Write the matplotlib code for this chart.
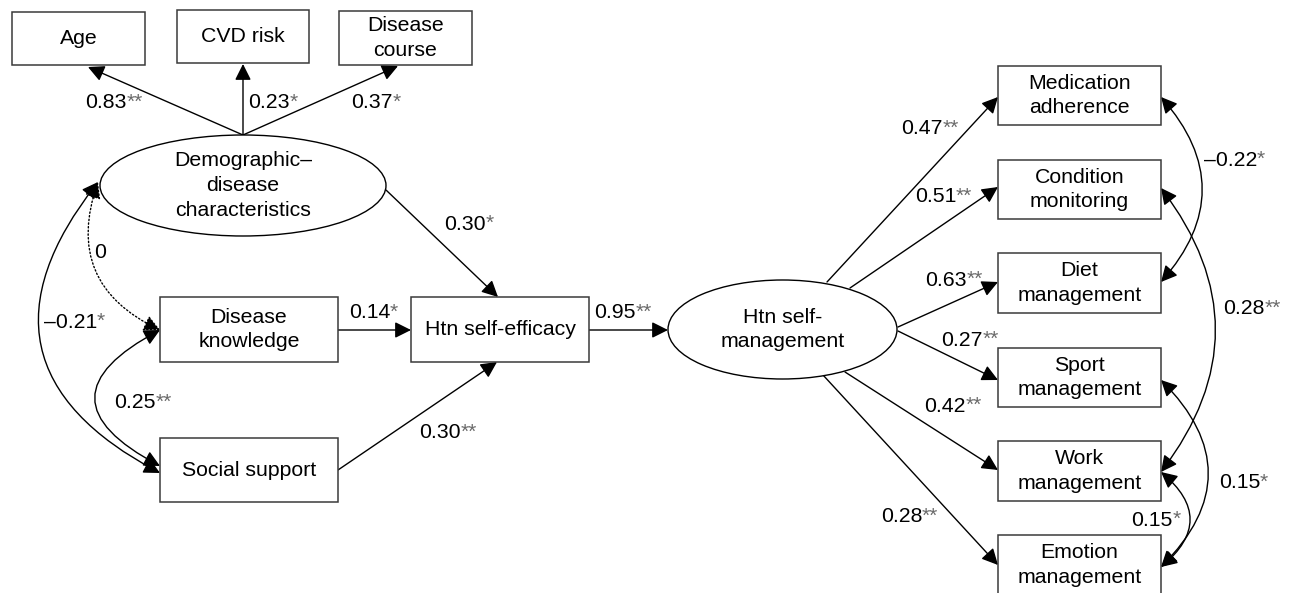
#------------------------------------------------------------
# Path diagram : Htn self-efficacy / self-management model
#------------------------------------------------------------
import matplotlib
matplotlib.use("Agg")
import matplotlib.pyplot as plt
from matplotlib import font_manager
from matplotlib.patches import Rectangle, Ellipse, FancyArrowPatch

#================================
#   DATA
#================================
node_keys = ["age", "cvd", "course", "demo", "know", "social", "eff", "mgmt",
             "med", "cond", "diet", "sport", "work", "emo"]
node_text = ["Age", "CVD risk", "Disease\ncourse",
             "Demographic\u2013\ndisease\ncharacteristics",
             "Disease\nknowledge", "Social support", "Htn self-efficacy",
             "Htn self-\nmanagement",
             "Medication\nadherence", "Condition\nmonitoring", "Diet\nmanagement",
             "Sport\nmanagement", "Work\nmanagement", "Emotion\nmanagement"]
latent = ["demo", "mgmt"]

# directed paths: (from, to), coefficient, significance
path_pairs = [("demo", "age"), ("demo", "cvd"), ("demo", "course"),
              ("demo", "eff"), ("know", "eff"), ("social", "eff"),
              ("eff", "mgmt"),
              ("mgmt", "med"), ("mgmt", "cond"), ("mgmt", "diet"),
              ("mgmt", "sport"), ("mgmt", "work"), ("mgmt", "emo")]
path_coef = ["0.83", "0.23", "0.37", "0.30", "0.14", "0.30", "0.95",
             "0.47", "0.51", "0.63", "0.27", "0.42", "0.28"]
path_sig = ["**", "*", "*", "*", "*", "**", "**",
            "**", "**", "**", "**", "**", "**"]

# covariances (double headed)
cov_pairs = [("demo", "social"), ("demo", "know"), ("know", "social"),
             ("med", "diet"), ("cond", "work"), ("sport", "emo"), ("work", "emo")]
cov_coef = ["\u20130.21", "0", "0.25", "\u20130.22", "0.28", "0.15", "0.15"]
cov_sig = ["*", "", "**", "*", "**", "*", "*"]

#================================
#   LAYOUT (pixels, y down)
#================================
# node boxes : x0, y0, x1, y1
node_box = {
    "age": (12, 12, 145, 65), "cvd": (177, 10, 309, 63), "course": (339, 11, 472, 65),
    "demo": (100, 135, 386, 236),
    "know": (160, 297, 338, 362), "social": (160, 438, 338, 502),
    "eff": (411, 297, 589, 362),
    "mgmt": (668, 280, 897, 379),
    "med": (998, 66, 1161, 125), "cond": (998, 160, 1161, 219),
    "diet": (998, 253, 1161, 313), "sport": (998, 348, 1161, 407),
    "work": (998, 441, 1161, 501), "emo": (998, 535, 1161, 595),
}
path_pts = [((243, 135), (88, 67)), ((243, 135), (243, 64)), ((243, 135), (398, 66)),
            ((386, 190), (498, 297)), ((338, 330), (411, 330)), ((338, 470), (497, 362)),
            ((589, 330), (668, 330)),
            ((827, 282), (998, 97)), ((850, 288), (998, 187)), ((898, 327), (998, 282)),
            ((898, 331), (998, 380)), ((845, 372), (998, 470)), ((823, 375), (998, 565))]
path_lab = [(127, 103), (290, 103), (393, 103), (486, 224), (390, 313), (461, 433),
            (636, 313), (943, 129), (956, 197), (967, 280), (983, 340), (966, 406),
            (922, 517)]

cov_pts = [((98, 182), (160, 473)), ((98, 182), (160, 330)), ((160, 330), (160, 466)),
           ((1161, 97), (1161, 282)), ((1161, 188), (1161, 472)),
           ((1161, 380), (1161, 567)), ((1161, 472), (1161, 567))]
cov_rad = [0.6, 0.45, 0.95, -0.44, -0.38, -0.5, -0.6]
cov_style = ["-", ":", "-", "-", "-", "-", "-"]
cov_lab = [(97, 322), (106, 253), (156, 403), (1257, 160), (1265, 309),
           (1260, 483), (1173, 520)]

FS = 15.3
FS_SIG = 15
SIG_COL = "#6a6a6a"

# pick an Arial-like family that is really there
installed = set(f.name for f in font_manager.fontManager.ttflist)
fams = [f for f in ["Liberation Sans", "Arimo", "Arial", "Roboto"] if f in installed]
plt.rcParams['font.family'] = fams + ['DejaVu Sans']

#================================
#   FIGURE
#================================
fig = plt.figure(figsize=(12.93, 5.93), dpi=100)
ax = fig.add_axes([0, 0, 1, 1])
ax.set_xlim(0, 1293)
ax.set_ylim(593, 0)
ax.axis("off")


def coef_label(pos, num, sig):
    x, y = pos
    ax.text(x, y, num, ha="right", va="center", fontsize=FS, zorder=5)
    if sig != "":
        ax.text(x, y - 1, sig, ha="left", va="center", fontsize=FS_SIG, color=SIG_COL, zorder=5)


# nodes
for key, txt in zip(node_keys, node_text):
    x0, y0, x1, y1 = node_box[key]
    cx, cy = (x0 + x1) / 2., (y0 + y1) / 2.
    if key in latent:
        p = Ellipse((cx, cy), x1 - x0, y1 - y0, facecolor="white", edgecolor="black", lw=1.0, zorder=3)
    else:
        p = Rectangle((x0, y0), x1 - x0, y1 - y0, facecolor="white", edgecolor="#3a3a3a", lw=1.1, zorder=3)
    ax.add_patch(p)
    ax.text(cx, cy, txt, ha="center", va="center", fontsize=FS, linespacing=1.38, zorder=4)

# directed paths
for (a, b), num, sig, lab in zip(path_pts, path_coef, path_sig, path_lab):
    arr = FancyArrowPatch(a, b, arrowstyle="-|>,head_length=0.7,head_width=0.35",
                          mutation_scale=14, color="black", lw=1.0,
                          shrinkA=0, shrinkB=0, zorder=2)
    ax.add_patch(arr)
    coef_label(lab, num, sig)

# covariances
for (a, b), rad, ls, num, sig, lab in zip(cov_pts, cov_rad, cov_style, cov_coef, cov_sig, cov_lab):
    arr = FancyArrowPatch(a, b, arrowstyle="<|-|>,head_length=0.7,head_width=0.35",
                          connectionstyle="arc3,rad=%.2f" % rad,
                          mutation_scale=14, color="black", lw=1.0, linestyle=ls,
                          shrinkA=0, shrinkB=0, zorder=2)
    ax.add_patch(arr)
    coef_label(lab, num, sig)

fig.savefig("out.png", dpi=100)
